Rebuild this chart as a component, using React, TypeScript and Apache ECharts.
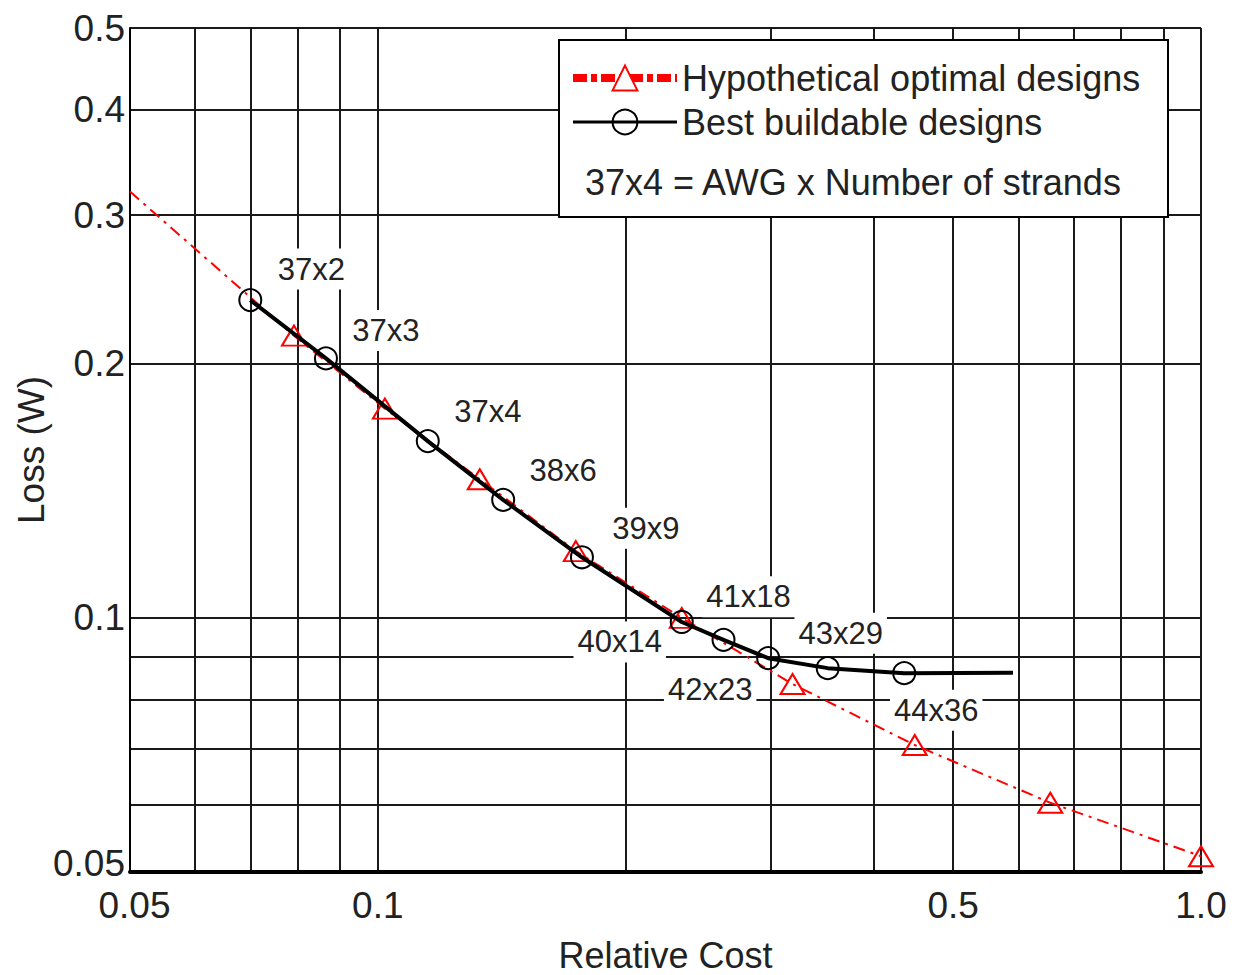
import React, { useEffect, useRef } from "react";
import * as echarts from "echarts";

// ---- data ----
const designNames = ["37x2", "37x3", "37x4", "38x6", "39x9", "40x14", "41x18", "42x23", "43x29", "44x36"];
const buildableCost = [0.07, 0.0865, 0.115, 0.142, 0.177, 0.234, 0.263, 0.298, 0.352, 0.436];
const buildableLoss = [0.238, 0.203, 0.162, 0.138, 0.118, 0.0989, 0.0942, 0.0896, 0.0872, 0.086];
const buildableTailCost = [0.591];
const buildableTailLoss = [0.0861];

const optimalCost = [0.05, 0.0791, 0.102, 0.133, 0.174, 0.234, 0.319, 0.449, 0.656, 1.0];
const optimalLoss = [0.32, 0.216, 0.177, 0.146, 0.12, 0.1, 0.0835, 0.0707, 0.0604, 0.0522];

const xGridValues = [0.05, 0.06, 0.07, 0.08, 0.09, 0.1, 0.2, 0.3, 0.4, 0.5, 0.6, 0.7, 0.8, 0.9, 1.0];
const yGridValues = [0.05, 0.06, 0.07, 0.08, 0.09, 0.1, 0.2, 0.3, 0.4, 0.5];
const xTickValues = [0.05, 0.1, 0.5, 1.0];
const xTickLabels = ["0.05", "0.1", "0.5", "1.0"];
const yTickValues = [0.05, 0.1, 0.2, 0.3, 0.4, 0.5];
const yTickLabels = ["0.05", "0.1", "0.2", "0.3", "0.4", "0.5"];

const seriesNames = ["Hypothetical optimal designs", "Best buildable designs"];
const noteText = "37x4 = AWG x Number of strands";

// label placement (style, not data): offset of each design label from its marker
const labelOffsets = [
  [61, -31], [60, -28], [60, -30], [60, -29], [64, -29],
  [-62, 20], [25, -43], [-58, 31], [13, -35], [32, 37],
];

const FONT = "'Liberation Sans', Arial, Helvetica, sans-serif";
const lg = (v: number) => Math.log10(v);

function nearestLabel(v: number, values: number[], labels: string[]) {
  let best = 0;
  values.forEach((t, i) => {
    if (Math.abs(lg(t) - v) < Math.abs(lg(values[best]) - v)) best = i;
  });
  return { idx: best, text: labels[best] };
}

export default function App() {
  const ref = useRef<HTMLDivElement>(null);

  useEffect(() => {
    if (!ref.current) return;
    const chart = echarts.init(ref.current, undefined, { renderer: "svg" });

    const buildableData: any[] = buildableCost.map((c, i) => ({
      name: designNames[i],
      value: [lg(c), lg(buildableLoss[i])],
      label: { offset: labelOffsets[i] },
    }));
    buildableTailCost.forEach((c, i) => {
      buildableData.push({
        value: [lg(c), lg(buildableTailLoss[i])],
        symbol: "none",
        label: { show: false },
      });
    });

    const optimalData: any[] = optimalCost.map((c, i) =>
      i === 0
        ? { value: [lg(c), lg(optimalLoss[i])], symbol: "none" }
        : { value: [lg(c), lg(optimalLoss[i])] }
    );

    const option: any = {
      animation: false,
      backgroundColor: "#fff",
      textStyle: { fontFamily: FONT },
      grid: { left: 130, top: 28, width: 1071, height: 844, containLabel: false, outerBoundsMode: "none" },
      xAxis: {
        type: "value",
        min: lg(0.05),
        max: lg(1.0),
        name: "Relative Cost",
        nameLocation: "middle",
        nameGap: 68,
        nameMoveOverlap: false,
        nameTextStyle: { fontSize: 36, lineHeight: 30, color: "#222", fontFamily: FONT },
        axisLine: { show: true, onZero: false, lineStyle: { color: "#000", width: 4 } },
        axisTick: { show: false, customValues: xGridValues.map(lg) },
        splitLine: { show: true, lineStyle: { color: "#1a1a1a", width: 2 } },
        axisLabel: {
          customValues: xTickValues.map(lg),
          fontSize: 37,
          color: "#222",
          fontFamily: FONT,
          margin: 15,
          formatter: (v: number) => {
            const r = nearestLabel(v, xTickValues, xTickLabels);
            return r.idx === 0 ? "{first|" + r.text + "}" : r.text;
          },
          rich: {
            first: { fontSize: 37, color: "#222", fontFamily: FONT, padding: [0, 0, 0, 9] },
          },
        },
      },
      yAxis: {
        type: "value",
        min: lg(0.05),
        max: lg(0.5),
        name: "Loss (W)",
        nameLocation: "middle",
        nameRotate: 90,
        nameGap: 80,
        nameMoveOverlap: false,
        nameTextStyle: { fontSize: 37, color: "#222", fontFamily: FONT },
        axisLine: { show: true, onZero: false, lineStyle: { color: "#000", width: 2 } },
        axisTick: { show: false, customValues: yGridValues.map(lg) },
        splitLine: { show: true, lineStyle: { color: "#1a1a1a", width: 2 } },
        axisLabel: {
          customValues: yTickValues.map(lg),
          fontSize: 37,
          color: "#222",
          fontFamily: FONT,
          margin: 5,
          formatter: (v: number) => {
            const r = nearestLabel(v, yTickValues, yTickLabels);
            return r.idx === 0 ? "{first|" + r.text + "}" : r.text;
          },
          rich: {
            first: { fontSize: 37, color: "#222", fontFamily: FONT, padding: [0, 0, 18, 0] },
          },
        },
      },
      legend: {
        orient: "vertical",
        left: 569,
        top: 60,
        padding: 0,
        itemGap: 8,
        itemWidth: 104,
        itemHeight: 31,
        z: 20,
        selectedMode: false,
        textStyle: { fontSize: 36, color: "#222", lineHeight: 30, fontFamily: FONT },
        data: [
          {
            name: seriesNames[0],
            itemStyle: { color: "#fff", borderColor: "#ff0000", borderWidth: 2 },
            lineStyle: { color: "#ff0000", width: 8, type: [14, 4, 6, 4] },
          },
          {
            name: seriesNames[1],
            itemStyle: { color: "rgba(0,0,0,0)", borderColor: "#000", borderWidth: 2 },
            lineStyle: { color: "#000", width: 3 },
          },
        ],
      },
      graphic: {
        elements: [
          {
            type: "rect",
            z: 10,
            shape: { x: 559, y: 40, width: 609, height: 177 },
            style: { fill: "#fff", stroke: "#000", lineWidth: 2 },
          },
          {
            type: "text",
            z: 11,
            style: {
              text: noteText,
              x: 585,
              y: 182,
              verticalAlign: "middle",
              fontSize: 36,
              fontFamily: FONT,
              fill: "#222",
            },
          },
        ],
      },
      series: [
        {
          name: seriesNames[0],
          type: "line",
          z: 2,
          clip: false,
          data: optimalData,
          symbol: "triangle",
          symbolSize: [24, 20],
          lineStyle: { color: "#ff0000", width: 2, type: [12, 6, 3, 6] },
          itemStyle: { color: "rgba(0,0,0,0)", borderColor: "#ff0000", borderWidth: 2 },
          emphasis: { disabled: true },
        },
        {
          name: seriesNames[1],
          type: "line",
          z: 3,
          smooth: false,
          data: buildableData,
          symbol: "circle",
          symbolSize: 22,
          lineStyle: { color: "#000", width: 4, join: "round" },
          itemStyle: { color: "rgba(0,0,0,0)", borderColor: "#000", borderWidth: 2 },
          emphasis: { disabled: true },
          label: {
            show: true,
            position: "inside",
            formatter: "{b}",
            fontSize: 31,
            fontFamily: FONT,
            color: "#222",
            backgroundColor: "#fff",
            padding: [5, 4, 5, 4],
          },
        },
      ],
    };

    chart.setOption(option);
    return () => chart.dispose();
  }, []);

  return (
    <div
      ref={ref}
      style={{ position: "absolute", left: 0, top: 0, width: 1235, height: 975 }}
    />
  );
}
